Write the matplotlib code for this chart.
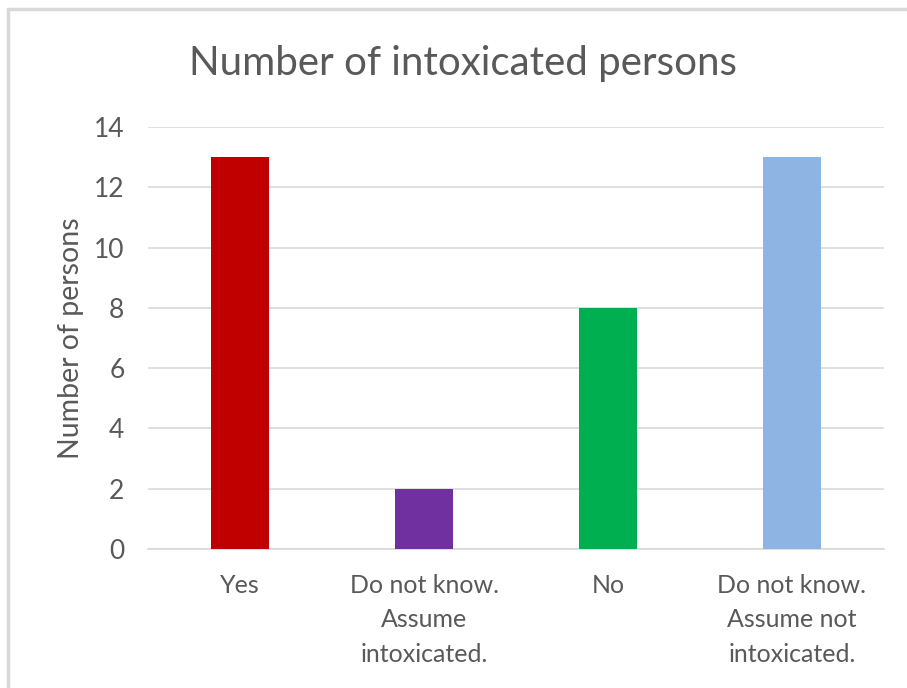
import numpy as np
import matplotlib.pyplot as plt
from matplotlib.patches import Rectangle

# datos
categorias = ['Yes', 'Do not know.\nAssume\nintoxicated.', 'No',
              'Do not know.\nAssume not\nintoxicated.']
valores = [13, 2, 8, 13]
colores = ['#C00000', '#7030A0', '#00B050', '#8EB4E3']
yticks = [0, 2, 4, 6, 8, 10, 12, 14]

plt.rcParams['font.family'] = ['Lato', 'DejaVu Sans']
gris = '#595959'

fig = plt.figure(figsize=(9.07, 6.88), dpi=100)
ax = fig.add_axes([148/907, 1 - 549/688, (884 - 148)/907, (549 - 127)/688])

# borde del grafico (recortado a la derecha y abajo)
fig.patches.append(Rectangle((7.5/907, -0.1), 1.2, 1 - 9/688 + 0.1,
                             transform=fig.transFigure, fill=False,
                             edgecolor='#D9D9D9', linewidth=2.5))

x = np.arange(len(categorias))
ax.bar(x, valores, width=0.31, color=colores, zorder=3)

ax.set_xlim(-0.5, len(categorias) - 0.5)
ax.set_ylim(0, 14)
ax.set_yticks(yticks)
ax.grid(axis='y', color='#D9D9D9', linewidth=1.2, zorder=0)
for s in ['top', 'right', 'left']:
    ax.spines[s].set_visible(False)
ax.spines['bottom'].set_color('#D9D9D9')
ax.spines['bottom'].set_linewidth(1.2)

ax.set_xticks(x)
ax.set_xticklabels(categorias, fontsize=18, color=gris, linespacing=1.6)
ax.tick_params(axis='y', length=0, labelsize=19, labelcolor=gris, pad=17)
ax.tick_params(axis='x', length=0, labelcolor=gris, pad=18)

ax.set_ylabel('Number of persons', fontsize=20.5, color=gris, labelpad=7)
fig.text(463/907, 1 - 63/688, 'Number of intoxicated persons', fontsize=29,
         color=gris, ha='center', va='center')

fig.savefig('out.png', dpi=100)
